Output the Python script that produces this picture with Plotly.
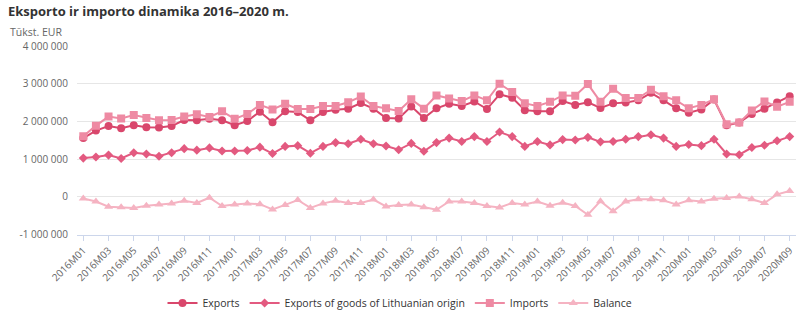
import plotly.graph_objects as go

# Monthly periods 2016M01 .. 2020M09
months = [f"{y}M{m:02d}" for y in range(2016, 2021) for m in range(1, 13)][:57]

# Values, million EUR (plotted in thousand EUR)
exports = [1.56, 1.76, 1.88, 1.82, 1.90, 1.85, 1.84, 1.88, 2.04, 2.03, 2.07, 2.03,
           1.90, 2.01, 2.26, 1.98, 2.27, 2.25, 2.03, 2.25, 2.31, 2.34, 2.49, 2.34,
           2.09, 2.08, 2.40, 2.09, 2.35, 2.47, 2.41, 2.53, 2.33, 2.72, 2.63, 2.30,
           2.27, 2.27, 2.54, 2.44, 2.51, 2.36, 2.48, 2.50, 2.56, 2.76, 2.56, 2.35,
           2.23, 2.32, 2.58, 1.90, 1.97, 2.20, 2.34, 2.50, 2.67]
exports_lt = [1.03, 1.06, 1.11, 1.02, 1.17, 1.14, 1.08, 1.17, 1.28, 1.24, 1.30, 1.22,
              1.22, 1.23, 1.32, 1.15, 1.34, 1.36, 1.16, 1.34, 1.44, 1.41, 1.53, 1.41,
              1.35, 1.25, 1.42, 1.21, 1.44, 1.56, 1.47, 1.60, 1.47, 1.72, 1.60, 1.34,
              1.47, 1.38, 1.52, 1.51, 1.58, 1.46, 1.47, 1.53, 1.60, 1.65, 1.56, 1.34,
              1.39, 1.36, 1.53, 1.14, 1.12, 1.31, 1.37, 1.49, 1.60]
imports = [1.61, 1.89, 2.13, 2.08, 2.17, 2.09, 2.03, 2.04, 2.13, 2.19, 2.12, 2.27,
           2.07, 2.20, 2.44, 2.32, 2.47, 2.33, 2.33, 2.41, 2.41, 2.51, 2.66, 2.41,
           2.35, 2.28, 2.59, 2.34, 2.69, 2.61, 2.54, 2.69, 2.56, 3.00, 2.78, 2.48,
           2.41, 2.52, 2.69, 2.68, 2.99, 2.52, 2.87, 2.62, 2.62, 2.84, 2.67, 2.56,
           2.35, 2.44, 2.59, 1.93, 1.97, 2.29, 2.53, 2.39, 2.52]
balance = [-0.04, -0.12, -0.26, -0.27, -0.29, -0.23, -0.20, -0.17, -0.10, -0.16, -0.02, -0.24,
           -0.20, -0.17, -0.19, -0.33, -0.21, -0.08, -0.29, -0.17, -0.10, -0.16, -0.16, -0.07,
           -0.25, -0.21, -0.20, -0.27, -0.34, -0.12, -0.12, -0.16, -0.24, -0.28, -0.16, -0.20,
           -0.12, -0.23, -0.15, -0.24, -0.47, -0.11, -0.38, -0.12, -0.06, -0.06, -0.09, -0.20,
           -0.09, -0.12, -0.05, -0.03, 0.01, -0.06, -0.16, 0.07, 0.16]

y_ticks = [-1_000_000, 0, 1_000_000, 2_000_000, 3_000_000, 4_000_000]
y_ticktext = ["-1 000 000", "0", "1 000 000", "2 000 000", "3 000 000", "4 000 000"]

series = [
    ("Exports", exports, "#d9476c", "circle", 8),
    ("Exports of goods of Lithuanian origin", exports_lt, "#e35a80", "diamond", 7),
    ("Imports", imports, "#ee8aa3", "square", 8),
    ("Balance", balance, "#f5b3c2", "triangle-up", 8),
]

fig = go.Figure()
for name, vals, color, symbol, size in series:
    fig.add_trace(go.Scatter(
        x=months,
        y=[v * 1_000_000 for v in vals],
        name=name,
        mode="lines+markers",
        line=dict(color=color, width=2),
        marker=dict(color=color, symbol=symbol, size=size),
    ))

fig.update_layout(
    width=800, height=321,
    margin=dict(l=77, r=4, t=46, b=81.5),
    paper_bgcolor="white", plot_bgcolor="white",
    font=dict(family="Open Sans", color="#666666", size=10),
    title=dict(
        text="<b>Eksporto ir importo dinamika 2016–2020 m.</b>",
        font=dict(family="Open Sans", size=13, color="#333333"),
        xref="container", x=8 / 800, xanchor="left",
        yref="container", y=1 - 11 / 321, yanchor="middle",
    ),
    annotations=[dict(
        text="Tūkst. EUR", xref="paper", yref="paper",
        x=(8 - 77) / 719, xanchor="left",
        y=1 + (46 - 32) / 193.5, yanchor="middle",
        showarrow=False, font=dict(size=10.5, color="#666666"),
    )],
    showlegend=True,
    legend=dict(
        orientation="h", xref="container", x=0.5, xanchor="center",
        yref="container", y=1 - 303 / 321, yanchor="middle",
        font=dict(size=10.5, color="#333333"), itemwidth=30,
        tracegroupgap=0,
    ),
    hovermode="x unified",
)

fig.update_xaxes(
    type="category", categoryorder="array", categoryarray=months,
    range=[-0.5, len(months) - 0.5],
    tickvals=months[::2], ticktext=months[::2], tickangle=-45,
    ticks="outside", ticklen=5, tickcolor="#ccd6eb",
    showline=True, linecolor="#ccd6eb", linewidth=1,
    showgrid=False, zeroline=False,
    tickfont=dict(size=10, color="#666666"),
)
fig.update_yaxes(
    range=[-1_000_000, 4_000_000],
    tickvals=y_ticks, ticktext=y_ticktext,
    showgrid=True, gridcolor="#e6e6e6", gridwidth=1,
    zeroline=True, zerolinecolor="#e6e6e6", zerolinewidth=1,
    showline=False, ticks="", ticklabelstandoff=8,
    tickfont=dict(size=10, color="#666666"),
)

fig.write_html("out.html")
